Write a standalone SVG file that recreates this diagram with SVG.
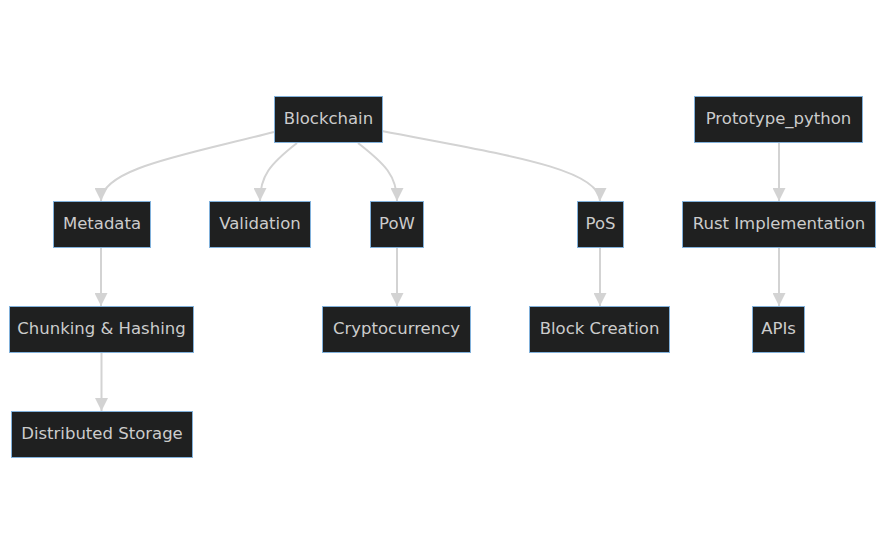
<svg xmlns="http://www.w3.org/2000/svg" width="885" height="555" viewBox="0 0 885 555">
<style>
.node rect{fill:#1f2020;stroke:#81b1db;stroke-width:1}
.node text{fill:#cccccc;font-family:"DejaVu Sans","Open Sans",sans-serif;font-size:16.5px;text-anchor:middle;dominant-baseline:central}
.edge{fill:none;stroke:#d3d3d3;stroke-width:2;marker-end:url(#arrow)}
</style>
<defs>
<marker id="arrow" viewBox="0 0 10 10" refX="10" refY="5" markerUnits="userSpaceOnUse" markerWidth="13" markerHeight="13" orient="auto">
<path d="M0,0 L10,5 L0,10 z" fill="#d3d3d3"/>
</marker>
</defs>
<rect width="885" height="555" fill="#ffffff"/>
<g id="edges">
<path class="edge" d="M274,132 C190,154 101,168 101,201"/>
<path class="edge" d="M297,143 C270,164 260,176 260,201"/>
<path class="edge" d="M358,143 C385,164 397,176 397,201"/>
<path class="edge" d="M382,131 C500,154 600,168 600,201"/>
<path class="edge" d="M101,248 L101,306"/>
<path class="edge" d="M397,248 L397,306"/>
<path class="edge" d="M600,248 L600,306"/>
<path class="edge" d="M779,143 L779,201"/>
<path class="edge" d="M779,248 L779,306"/>
<path class="edge" d="M101.5,353 L101.5,411"/>
</g>
<g id="Blockchain" class="node"><rect x="274.5" y="96.5" width="108" height="46"/><text x="328.5" y="118">Blockchain</text></g>
<g id="Prototype_python" class="node"><rect x="694.5" y="96.5" width="168" height="46"/><text x="778.5" y="118">Prototype_python</text></g>
<g id="Metadata" class="node"><rect x="53.5" y="201.5" width="97" height="46"/><text x="102" y="223">Metadata</text></g>
<g id="Validation" class="node"><rect x="209.5" y="201.5" width="101" height="46"/><text x="260" y="223">Validation</text></g>
<g id="PoW" class="node"><rect x="370.5" y="201.5" width="53" height="46"/><text x="397" y="223">PoW</text></g>
<g id="PoS" class="node"><rect x="577.5" y="201.5" width="46" height="46"/><text x="600.5" y="223">PoS</text></g>
<g id="Rust" class="node"><rect x="682.5" y="201.5" width="193" height="46"/><text x="779" y="223">Rust Implementation</text></g>
<g id="Chunking" class="node"><rect x="9.5" y="306.5" width="184" height="46"/><text x="101.5" y="328">Chunking &amp; Hashing</text></g>
<g id="Cryptocurrency" class="node"><rect x="322.5" y="306.5" width="148" height="46"/><text x="396.5" y="328">Cryptocurrency</text></g>
<g id="BlockCreation" class="node"><rect x="529.5" y="306.5" width="140" height="46"/><text x="599.5" y="328">Block Creation</text></g>
<g id="APIs" class="node"><rect x="752.5" y="306.5" width="52" height="46"/><text x="778.5" y="328">APIs</text></g>
<g id="Distributed" class="node"><rect x="11.5" y="411.5" width="181" height="46"/><text x="102" y="433">Distributed Storage</text></g>
</svg>
